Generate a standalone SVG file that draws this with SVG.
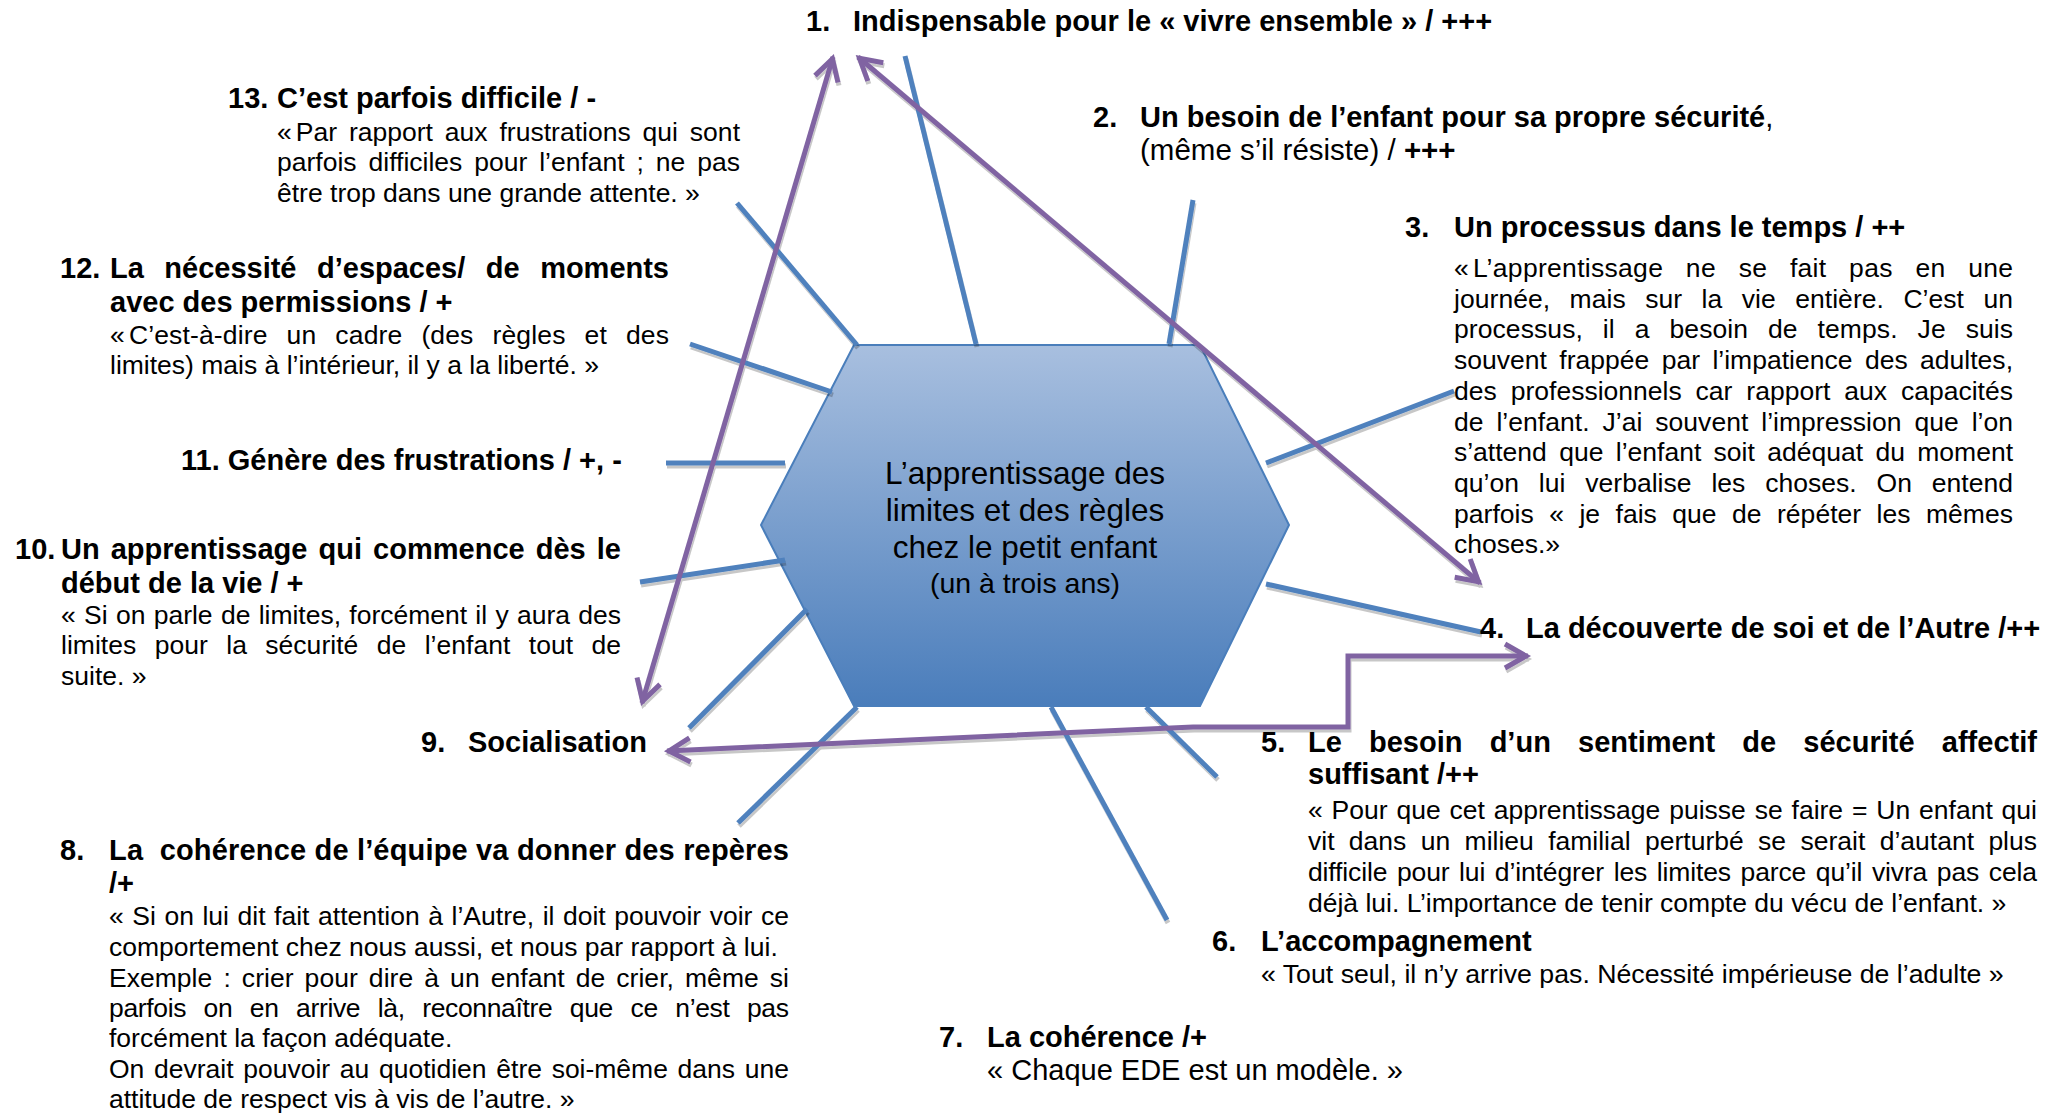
<svg xmlns="http://www.w3.org/2000/svg" width="2069" height="1113" viewBox="0 0 2069 1113">
<style>
text{font-family:"Liberation Sans",Arial,sans-serif;fill:#000}
.t{font-size:29px;font-weight:bold}
.b{font-size:26.5px}
.q7{font-size:29px}
.h{font-size:31.5px;text-anchor:middle}
.hs{font-size:28.5px;text-anchor:middle}
.bl{stroke:#4f81bd;stroke-width:5;fill:none}
.pu{stroke:#8064a2;stroke-width:5;fill:none;marker-start:url(#ar);marker-end:url(#ar)}
</style>
<defs>
<linearGradient id="hg" x1="0" y1="0" x2="0" y2="1">
<stop offset="0" stop-color="#a8bfdf"/>
<stop offset="1" stop-color="#4a7dbb"/>
</linearGradient>
<marker id="ar" markerUnits="userSpaceOnUse" markerWidth="40" markerHeight="40" refX="2" refY="0" orient="auto-start-reverse" viewBox="-30 -20 40 40" overflow="visible">
<path d="M-21,-12 L0,0 L-21,12" fill="none" stroke="#8064a2" stroke-width="5"/>
</marker>
<filter id="sh" filterUnits="userSpaceOnUse" x="0" y="0" width="2069" height="1113">
<feOffset in="SourceAlpha" dx="1" dy="3" result="o"/>
<feFlood flood-color="#000" flood-opacity="0.22"/>
<feComposite in2="o" operator="in" result="s"/>
<feMerge><feMergeNode in="s"/><feMergeNode in="SourceGraphic"/></feMerge>
</filter>
</defs>
<rect width="2069" height="1113" fill="#fff"/>

<g id="center">
<polygon points="854,345 1200,345 1289,525 1200,706 854,706 761,525" fill="url(#hg)" stroke="#4a7ebb" stroke-width="2"/>
<text class="h" x="1025" y="484">L’apprentissage des</text>
<text class="h" x="1025" y="521">limites et des règles</text>
<text class="h" x="1025" y="558">chez le petit enfant</text>
<text class="hs" x="1025" y="593">(un à trois ans)</text>
</g>

<g id="connectors" filter="url(#sh)">
<line class="bl" x1="976" y1="344" x2="905" y2="56"/>
<line class="bl" x1="1169" y1="344" x2="1193" y2="200"/>
<line class="bl" x1="857" y1="345" x2="737" y2="203"/>
<line class="bl" x1="832" y1="392" x2="690" y2="344"/>
<line class="bl" x1="785" y1="463" x2="666" y2="463"/>
<line class="bl" x1="785" y1="560" x2="640" y2="582"/>
<line class="bl" x1="807" y1="609" x2="689" y2="728"/>
<line class="bl" x1="857" y1="707" x2="738" y2="823"/>
<line class="bl" x1="1051" y1="707" x2="1167" y2="920"/>
<line class="bl" x1="1146" y1="707" x2="1217" y2="777"/>
<line class="bl" x1="1266" y1="463" x2="1454" y2="391"/>
<line class="bl" x1="1266" y1="584" x2="1481" y2="632"/>
<line class="pu" x1="642" y1="703" x2="833" y2="57"/>
<line class="pu" x1="858" y1="57" x2="1480" y2="583"/>
<polyline class="pu" points="667,751 1193,727 1348,727 1348,656 1528,656"/>
</g>

<g id="n1">
<text class="t" x="806" y="31">1.</text>
<text class="t" x="853" y="31">Indispensable pour le « vivre ensemble » / +++</text>
</g>

<g id="n2">
<text class="t" x="1093" y="127">2.</text>
<text class="t" x="1140" y="127">Un besoin de l’enfant pour sa propre sécurité<tspan style="font-weight:normal">,</tspan></text>
<text class="b" x="1140" y="160" style="font-size:29.5px">(même s’il résiste) / <tspan style="font-weight:bold">+++</tspan></text>
</g>

<g id="n3">
<text class="t" x="1405" y="237">3.</text>
<text class="t" x="1454" y="237">Un processus dans le temps / ++</text>
<text class="b" x="1454" y="277" textLength="559" lengthAdjust="spacing" style="word-spacing:15px">«<tspan dx="4">L’apprentissage ne se fait pas en une</tspan></text>
<text class="b" x="1454" y="307.7" textLength="559" lengthAdjust="spacing" style="word-spacing:12px">journée, mais sur la vie entière. C’est un</text>
<text class="b" x="1454" y="338.4" textLength="559" lengthAdjust="spacing" style="word-spacing:12.5px">processus, il a besoin de temps. Je suis</text>
<text class="b" x="1454" y="369.1" textLength="559" lengthAdjust="spacing" style="word-spacing:5px">souvent frappée par l’impatience des adultes,</text>
<text class="b" x="1454" y="399.8" textLength="559" lengthAdjust="spacing" style="word-spacing:6.5px">des professionnels car rapport aux capacités</text>
<text class="b" x="1454" y="430.5" textLength="559" lengthAdjust="spacing" style="word-spacing:5.5px">de l’enfant. J’ai souvent l’impression que l’on</text>
<text class="b" x="1454" y="461.2" textLength="559" lengthAdjust="spacing" style="word-spacing:5px">s’attend que l’enfant soit adéquat du moment</text>
<text class="b" x="1454" y="491.9" textLength="559" lengthAdjust="spacing" style="word-spacing:12.5px">qu’on lui verbalise les choses. On entend</text>
<text class="b" x="1454" y="522.6" textLength="559" lengthAdjust="spacing" style="word-spacing:8px">parfois « je fais que de répéter les mêmes</text>
<text class="b" x="1454" y="553.3">choses.»</text>
</g>

<g id="n4">
<text class="t" x="1480" y="638">4.</text>
<text class="t" x="1526" y="638">La découverte de soi et de l’Autre /++</text>
</g>

<g id="n5">
<text class="t" x="1261" y="752">5.</text>
<text class="t" x="1308" y="752" textLength="729" lengthAdjust="spacing" style="word-spacing:19px">Le besoin d’un sentiment de sécurité affectif</text>
<text class="t" x="1308" y="784">suffisant /++</text>
<text class="b" x="1308" y="819" textLength="729" lengthAdjust="spacing" style="word-spacing:1.5px">« Pour que cet apprentissage puisse se faire = Un enfant qui</text>
<text class="b" x="1308" y="850" textLength="729" lengthAdjust="spacing" style="word-spacing:7px">vit dans un milieu familial perturbé se serait d’autant plus</text>
<text class="b" x="1308" y="881" textLength="729" lengthAdjust="spacing" style="word-spacing:2.4px">difficile pour lui d’intégrer les limites parce qu’il vivra pas cela</text>
<text class="b" x="1308" y="912">déjà lui. L’importance de tenir compte du vécu de l’enfant. »</text>
</g>

<g id="n6">
<text class="t" x="1212" y="951">6.</text>
<text class="t" x="1261" y="951">L’accompagnement</text>
<text class="b" x="1261" y="983" style="font-size:26.7px">« Tout seul, il n’y arrive pas. Nécessité impérieuse de l’adulte »</text>
</g>

<g id="n7">
<text class="t" x="939" y="1047">7.</text>
<text class="t" x="987" y="1047">La cohérence /+</text>
<text class="q7" x="987" y="1080">« Chaque EDE est un modèle. »</text>
</g>

<g id="n8">
<text class="t" x="60" y="860">8.</text>
<text class="t" x="109" y="860" textLength="680" lengthAdjust="spacing" xml:space="preserve">La  cohérence de l’équipe va donner des repères</text>
<text class="t" x="109" y="893">/+</text>
<text class="b" x="109" y="925" textLength="680" lengthAdjust="spacing" style="word-spacing:1.2px">« Si on lui dit fait attention à l’Autre, il doit pouvoir voir ce</text>
<text class="b" x="109" y="956">comportement chez nous aussi, et nous par rapport à lui.</text>
<text class="b" x="109" y="987" textLength="680" lengthAdjust="spacing" style="word-spacing:3.7px">Exemple : crier pour dire à un enfant de crier, même si</text>
<text class="b" x="109" y="1017" textLength="680" lengthAdjust="spacing" style="word-spacing:10.5px">parfois on en arrive là, reconnaître que ce n’est pas</text>
<text class="b" x="109" y="1047">forcément la façon adéquate.</text>
<text class="b" x="109" y="1078" textLength="680" lengthAdjust="spacing" style="word-spacing:2.4px">On devrait pouvoir au quotidien être soi-même dans une</text>
<text class="b" x="109" y="1108">attitude de respect vis à vis de l’autre. »</text>
</g>

<g id="n9">
<text class="t" x="421" y="752">9.</text>
<text class="t" x="468" y="752">Socialisation</text>
</g>

<g id="n10">
<text class="t" x="15" y="559">10.</text>
<text class="t" x="61" y="559" textLength="560" lengthAdjust="spacing" style="word-spacing:3px">Un apprentissage qui commence dès le</text>
<text class="t" x="61" y="593">début de la vie / +</text>
<text class="b" x="61" y="624" textLength="560" lengthAdjust="spacing" style="word-spacing:1px">« Si on parle de limites, forcément il y aura des</text>
<text class="b" x="61" y="654" textLength="560" lengthAdjust="spacing" style="word-spacing:11px">limites pour la sécurité de l’enfant tout de</text>
<text class="b" x="61" y="685">suite. »</text>
</g>

<g id="n11">
<text class="t" x="181" y="470">11. Génère des frustrations / +, -</text>
</g>

<g id="n12">
<text class="t" x="60" y="278">12.</text>
<text class="t" x="110" y="278" textLength="559" lengthAdjust="spacing" style="word-spacing:12.5px">La nécessité d’espaces/ de moments</text>
<text class="t" x="110" y="312">avec des permissions / +</text>
<text class="b" x="110" y="344" textLength="559" lengthAdjust="spacing" style="word-spacing:11.5px">«<tspan dx="4">C’est-à-dire un cadre (des règles et des</tspan></text>
<text class="b" x="110" y="374">limites) mais à l’intérieur, il y a la liberté. »</text>
</g>

<g id="n13">
<text class="t" x="228" y="108">13.</text>
<text class="t" x="277" y="108">C’est parfois difficile / -</text>
<text class="b" x="277" y="141" textLength="463" lengthAdjust="spacing" style="word-spacing:4.5px">«<tspan dx="4">Par rapport aux frustrations qui sont</tspan></text>
<text class="b" x="277" y="171" textLength="463" lengthAdjust="spacing" style="word-spacing:4.5px">parfois difficiles pour l’enfant ; ne pas</text>
<text class="b" x="277" y="202">être trop dans une grande attente. »</text>
</g>
</svg>
